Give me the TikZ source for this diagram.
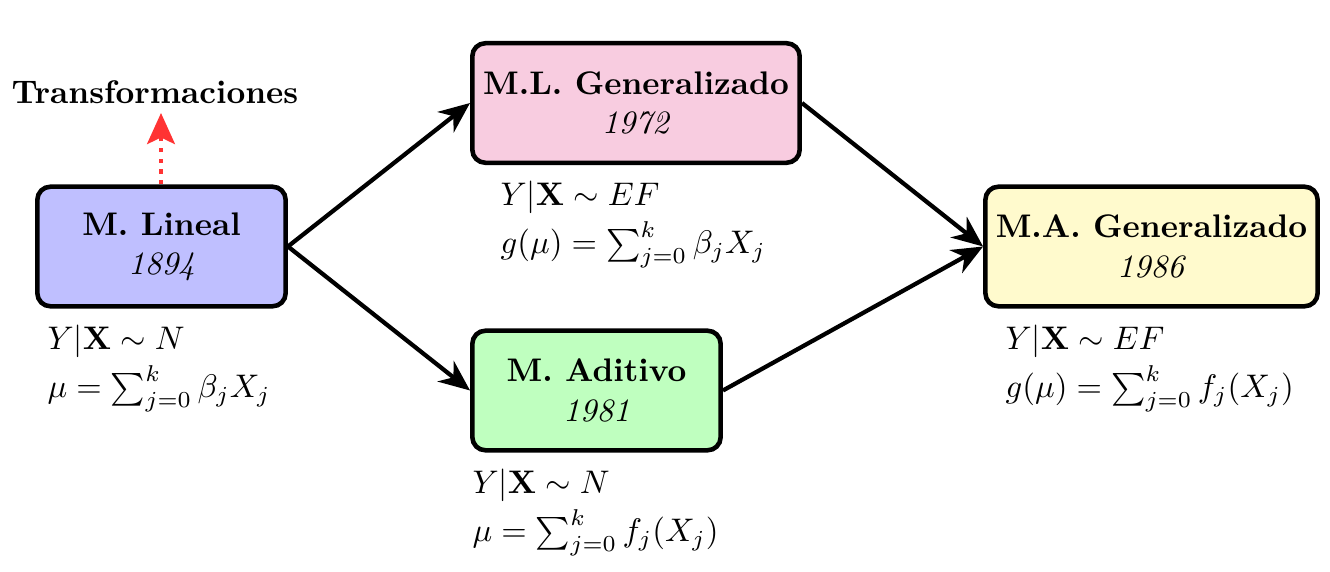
\documentclass[tikz,border=0pt]{standalone}
\usepackage{amsmath}
\usetikzlibrary{arrows.meta}
\definecolor{cLin}{RGB}{191,191,255}
\definecolor{cGLM}{RGB}{248,204,224}
\definecolor{cAdi}{RGB}{191,255,191}
\definecolor{cGAM}{RGB}{255,250,205}
\definecolor{cRed}{RGB}{255,51,51}
\begin{document}
\begin{tikzpicture}[x=0.010753cm,y=-0.010753cm,
  model/.style={draw=black, line width=1.4pt, rounded corners=4pt, align=center, inner sep=0pt, minimum height=36.6pt},
  eq/.style={anchor=north west, align=left, inner sep=0pt},
  conn/.style={line width=1.3pt, -{Stealth[length=9.5pt,width=8pt,inset=3pt]}}]
\useasboundingbox (0,0) rectangle (1330,572);
\node[model, fill=cLin, minimum width=76pt] (lin) at (161.5,246.5) {\textbf{M. Lineal}\\\textit{1894}};
\node[model, fill=cGLM, minimum width=100.2pt] (glm) at (636,103) {\textbf{M.L. Generalizado}\\\textit{1972}};
\node[model, fill=cAdi, minimum width=76pt] (adi) at (596.5,390.5) {\textbf{M. Aditivo}\\\textit{1981}};
\node[model, fill=cGAM, minimum width=101.7pt] (gam) at (1151.5,246.5) {\textbf{M.A. Generalizado}\\\textit{1986}};
\node[font=\bfseries] (tr) at (155,92) {Transformaciones};
\coordinate (trtip) at (161,113);
\draw[cRed, line width=1.3pt, dotted, -{Stealth[length=9.5pt,width=8.5pt,inset=2pt,sep=0pt]}] (lin.north -| trtip) -- (trtip);
\draw[conn] (lin.east) -- (glm.west);
\draw[conn] (lin.east) -- (adi.west);
\draw[conn] (glm.east) -- (gam.west);
\draw[conn] (adi.east) -- (gam.west);
\node[eq] (eqlin) at (47,324) {$Y|\mathbf{X}\sim N$\\[1.5pt]$\mu=\sum_{j=0}^k\beta_jX_j$};
\node[eq] (eqglm) at (500,180) {$Y|\mathbf{X}\sim EF$\\[1.5pt]$g(\mu)=\sum_{j=0}^k\beta_jX_j$};
\node[eq] (eqadi) at (472,468) {$Y|\mathbf{X}\sim N$\\[1.5pt]$\mu=\sum_{j=0}^k f_j(X_j)$};
\node[eq] (eqgam) at (1005,324) {$Y|\mathbf{X}\sim EF$\\[1.5pt]$g(\mu)=\sum_{j=0}^k f_j(X_j)$};
\end{tikzpicture}
\end{document}
